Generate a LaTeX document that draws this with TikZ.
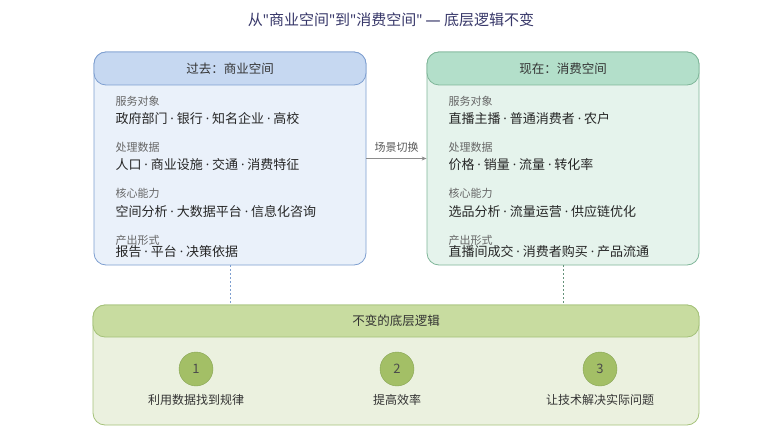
\documentclass[tikz,border=0pt]{standalone}
\usepackage{fontspec}
\setmainfont{Noto Sans CJK SC}
\newfontfamily\latfont{Noto Sans}
\newcommand\sep{ {\latfont·} }
\newcommand\qt{{\latfont\symbol{"22}}}
\usetikzlibrary{arrows.meta}
\definecolor{bluehd}{HTML}{C6D8F1}
\definecolor{bluebd}{HTML}{EAF1FA}
\definecolor{blueln}{HTML}{7E9FD0}
\definecolor{greenhd}{HTML}{B3DFCA}
\definecolor{greenbd}{HTML}{E5F3EC}
\definecolor{greenln}{HTML}{7FB699}
\definecolor{olivehd}{HTML}{C8DCA0}
\definecolor{olivebd}{HTML}{EBF1DF}
\definecolor{oliveln}{HTML}{A5C27A}
\definecolor{dotfill}{HTML}{A3BF66}
\definecolor{dotln}{HTML}{86A453}
\tikzset{
  panel/.style={draw=#1ln,fill=#1bd,rounded corners=12pt,line width=0.8pt},
  panelhd/.style={draw=#1ln,fill=#1hd,rounded corners=12pt,line width=0.8pt,
    font=\fontsize{12.5}{14}\selectfont,text=black!80},
  tag/.style={anchor=west,font=\fontsize{11}{12}\selectfont,text=black!60},
  item/.style={anchor=west,font=\fontsize{13}{15}\selectfont,text=black!85},
  dot/.style={circle,draw=dotln,fill=dotfill,minimum size=34pt,inner sep=0pt,
    font=\fontsize{13}{15}\selectfont,text=black!70},
  dotlabel/.style={font=\fontsize{12}{14}\selectfont,text=black!80},
}
\begin{document}
\begin{tikzpicture}[x=1pt,y=-1pt]
\useasboundingbox[fill=white] (0,0) rectangle (782,441);
\node[font=\fontsize{15}{17}\selectfont,text={rgb,255:red,55;green,55;blue,105}] (title) at (391,20) {从\qt 商业空间\qt 到\qt 消费空间\qt{} {\latfont —} 底层逻辑不变};
% past and present panels
\node[panel=blue,minimum width=272pt,minimum height=213pt] (lbox) at (230,158.5) {};
\node[panelhd=blue,minimum width=272pt,minimum height=33pt] (lhead) at (230,68.5) {过去：商业空间};
\node[panel=green,minimum width=272pt,minimum height=213pt] (rbox) at (563,158.5) {};
\node[panelhd=green,minimum width=272pt,minimum height=33pt] (rhead) at (563,68.5) {现在：消费空间};
\def\lx{112}
\def\rx{445}
\node[tag] (ltag1) at (\lx,101) {服务对象};
\node[item] (litem1) at (\lx,119) {政府部门\sep 银行\sep 知名企业\sep 高校};
\node[tag] (ltag2) at (\lx,147) {处理数据};
\node[item] (litem2) at (\lx,165) {人口\sep 商业设施\sep 交通\sep 消费特征};
\node[tag] (ltag3) at (\lx,193) {核心能力};
\node[item] (litem3) at (\lx,212) {空间分析\sep 大数据平台\sep 信息化咨询};
\node[tag] (ltag4) at (\lx,240) {产出形式};
\node[item] (litem4) at (\lx,252) {报告\sep 平台\sep 决策依据};
\node[tag] (rtag1) at (\rx,101) {服务对象};
\node[item] (ritem1) at (\rx,119) {直播主播\sep 普通消费者\sep 农户};
\node[tag] (rtag2) at (\rx,147) {处理数据};
\node[item] (ritem2) at (\rx,165) {价格\sep 销量\sep 流量\sep 转化率};
\node[tag] (rtag3) at (\rx,193) {核心能力};
\node[item] (ritem3) at (\rx,212) {选品分析\sep 流量运营\sep 供应链优化};
\node[tag] (rtag4) at (\rx,240) {产出形式};
\node[item] (ritem4) at (\rx,252) {直播间成交\sep 消费者购买\sep 产品流通};
% switch arrow
\draw[-{Stealth[length=5pt,width=4pt]},draw=black!45,line width=0.7pt] (lbox.east) -- node[above=2pt,font=\fontsize{11}{12}\selectfont,text=black!65] {场景切换} (rbox.west);
% unchanged logic
\node[panel=olive,minimum width=606pt,minimum height=120pt] (base) at (396,365) {};
\node[panelhd=olive,minimum width=606pt,minimum height=32pt] (bhead) at (396,321) {不变的底层逻辑};
\draw[blueln,dash pattern=on 2pt off 2pt,line width=0.7pt] (lbox.south) -- (lbox.south |- base.north);
\draw[greenln!80!black,dash pattern=on 2pt off 2pt,line width=0.7pt] (rbox.south) -- (rbox.south |- base.north);
\foreach \n/\x/\t in {1/196/利用数据找到规律,2/397/提高效率,3/600/让技术解决实际问题} {
  \node[dot] (dot\n) at (\x,369) {\n};
  \node[dotlabel] (lab\n) at (\x,400) {\t};
}
\end{tikzpicture}
\end{document}
